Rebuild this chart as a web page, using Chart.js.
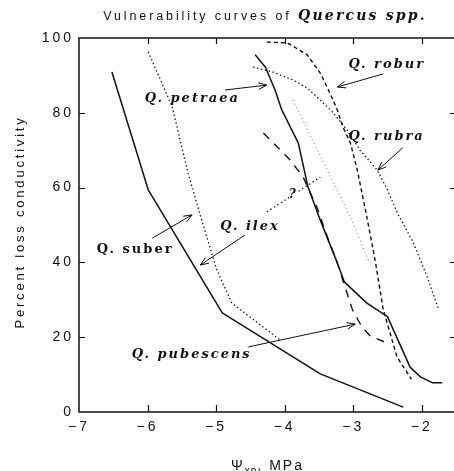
<!DOCTYPE html>
<html>
<head>
<meta charset="utf-8">
<title>Vulnerability curves of Quercus spp.</title>
<script src="https://cdn.jsdelivr.net/npm/chart.js@4.4.0/dist/chart.umd.min.js"></script>
<style>
    html, body { margin: 0; padding: 0; background: #fff; overflow: hidden; }
    #wrap { width: 458px; height: 471px; }
</style>
</head>
<body>
<div id="wrap"><canvas id="chart" width="458" height="471"></canvas></div>
<script>
// Axis ticks
const xTicks = [-7, -6, -5, -4, -3, -2];
const yTicks = [0, 20, 40, 60, 80, 100];

// Curves (xylem pressure MPa, percent loss conductivity)
const suberX = [-6.52, -5.99, -4.91, -3.48, -2.27];
const suberY = [90.9, 59.4, 26.5, 10.2, 1.3];

const ilexX = [-5.99, -5.64, -5.41, -5.18, -4.99, -4.77, -4.07];
const ilexY = [96.3, 81.6, 63.9, 49.5, 38.0, 29.1, 19.3];

const petraeaX = [-4.43, -4.28, -4.14, -4.04, -3.80, -3.66, -3.48, -3.23, -3.13, -2.80, -2.50, -2.17, -2.02, -1.84, -1.70];
const petraeaY = [95.5, 92.2, 86.1, 80.7, 71.9, 60.2, 51.3, 39.8, 34.8, 29.1, 25.5, 12.0, 9.4, 7.8, 7.8];

const roburX = [-4.26, -3.96, -3.67, -3.48, -3.34, -3.23, -3.15, -3.04, -2.94, -2.81, -2.68, -2.56, -2.36, -2.15];
const roburY = [98.9, 98.7, 95.5, 90.6, 85.3, 80.7, 76.2, 71.9, 64.7, 53.0, 40.6, 27.3, 14.7, 8.8];

const rubraX = [-4.46, -4.17, -3.88, -3.67, -3.48, -3.29, -3.09, -2.90, -2.65, -2.50, -2.35, -2.12, -1.92, -1.76];
const rubraY = [92.2, 90.9, 88.8, 86.6, 83.4, 80.0, 75.4, 70.0, 64.7, 59.4, 53.0, 45.2, 36.1, 27.8];

const pubescensX = [-4.31, -3.92, -3.73, -3.53, -3.36, -3.23, -3.09, -3.01, -2.87, -2.75, -2.50];
const pubescensY = [74.6, 67.4, 62.8, 54.8, 46.0, 39.8, 31.8, 27.3, 22.7, 20.3, 18.4];

// faint dotted curve without its own label
const otherX = [-3.88, -3.04, -2.78];
const otherY = [83.4, 52.1, 40.6];

function pts(xs, ys) {
    return xs.map((x, i) => ({ x: x, y: ys[i] }));
}

function curve(label, xs, ys, dash, width, color) {
    return {
        label: label,
        data: pts(xs, ys),
        showLine: true,
        pointRadius: 0,
        borderColor: color || '#111',
        borderWidth: width,
        borderDash: dash,
        borderCapStyle: 'butt',
        borderJoinStyle: 'round',
        fill: false
    };
}

// Species labels and arrows, in data units
const notes = [
    { text: 'Q. robur', x: -3.07, y: 92.0, italic: true },
    { text: 'Q. petraea', x: -6.04, y: 82.9, italic: true },
    { text: 'Q. rubra', x: -3.07, y: 72.7, italic: true },
    { text: 'Q. ilex', x: -4.94, y: 48.7, italic: true },
    { text: 'Q. suber', x: -6.74, y: 42.5, italic: false },
    { text: 'Q. pubescens', x: -6.23, y: 14.4, italic: true }
];
const arrows = [
    [-4.87, 86.1, -4.26, 87.4],
    [-2.56, 90.4, -3.23, 86.9],
    [-2.28, 70.6, -2.64, 64.7],
    [-5.93, 46.5, -5.35, 52.7],
    [-4.58, 47.3, -5.23, 39.3],
    [-4.53, 17.4, -2.97, 23.5]
];

function spaced(ctx, px) {
    if ('letterSpacing' in ctx) ctx.letterSpacing = px + 'px';
}

const decor = {
    id: 'decor',
    beforeDraw(chart) {
        spaced(chart.ctx, 3);
    },
    afterDraw(chart) {
        const ctx = chart.ctx;
        const a = chart.chartArea;
        const sx = chart.scales.x, sy = chart.scales.y;
        ctx.save();
        ctx.strokeStyle = '#111';
        ctx.fillStyle = '#111';

        // frame
        ctx.lineWidth = 1.5;
        ctx.strokeRect(a.left, a.top, a.right - a.left, a.bottom - a.top);

        // inward ticks
        ctx.lineWidth = 1.2;
        ctx.beginPath();
        xTicks.forEach(v => {
            if (v === sx.min) return;
            const p = Math.round(sx.getPixelForValue(v)) + 0.5;
            ctx.moveTo(p, a.bottom); ctx.lineTo(p, a.bottom - 7);
            ctx.moveTo(p, a.top); ctx.lineTo(p, a.top + 6);
        });
        yTicks.forEach(v => {
            if (v === sy.min || v === sy.max) return;
            const p = Math.round(sy.getPixelForValue(v)) + 0.5;
            ctx.moveTo(a.left, p); ctx.lineTo(a.left + 6, p);
            ctx.moveTo(a.right, p); ctx.lineTo(a.right - 6, p);
        });
        ctx.stroke();

        // arrows
        ctx.lineWidth = 1;
        arrows.forEach(r => {
            const x0 = sx.getPixelForValue(r[0]), y0 = sy.getPixelForValue(r[1]);
            const x1 = sx.getPixelForValue(r[2]), y1 = sy.getPixelForValue(r[3]);
            const ang = Math.atan2(y1 - y0, x1 - x0);
            ctx.beginPath();
            ctx.moveTo(x0, y0); ctx.lineTo(x1, y1);
            ctx.moveTo(x1 - 9 * Math.cos(ang - 0.38), y1 - 9 * Math.sin(ang - 0.38));
            ctx.lineTo(x1, y1);
            ctx.lineTo(x1 - 9 * Math.cos(ang + 0.38), y1 - 9 * Math.sin(ang + 0.38));
            ctx.stroke();
        });

        // "?" with dotted pointer
        ctx.lineWidth = 1.3;
        ctx.setLineDash([1.4, 2.8]);
        ctx.beginPath();
        ctx.moveTo(sx.getPixelForValue(-4.26), sy.getPixelForValue(53.5));
        ctx.lineTo(sx.getPixelForValue(-3.48), sy.getPixelForValue(62.8));
        ctx.stroke();
        ctx.setLineDash([]);
        ctx.fillStyle = '#fff';
        ctx.fillRect(sx.getPixelForValue(-3.95), sy.getPixelForValue(61.5), 10, 14);
        ctx.fillStyle = '#111';
        spaced(ctx, 0);
        ctx.font = 'bold italic 12px "DejaVu Serif"';
        ctx.textAlign = 'center';
        ctx.textBaseline = 'alphabetic';
        ctx.fillText('?', sx.getPixelForValue(-3.89), sy.getPixelForValue(57.2));

        // species labels
        ctx.textAlign = 'left';
        notes.forEach(n => {
            ctx.font = (n.italic ? 'bold italic ' : 'bold ') + '13px "DejaVu Serif"';
            spaced(ctx, n.italic ? 2 : 2);
            ctx.fillText(n.text, sx.getPixelForValue(n.x), sy.getPixelForValue(n.y));
        });

        // title
        const f1 = '12.5px "Liberation Sans"', f2 = 'bold italic 14px "DejaVu Serif"';
        ctx.font = f1;
        spaced(ctx, 2.9);
        const t1 = 'Vulnerability curves of ';
        const w1 = ctx.measureText(t1).width;
        ctx.font = f2;
        spaced(ctx, 2.2);
        const t2 = 'Quercus spp.';
        const w2 = ctx.measureText(t2).width;
        const tx = 265 - (w1 + w2) / 2;
        ctx.font = f1;
        spaced(ctx, 2.9);
        ctx.fillText(t1, tx, 20);
        ctx.font = f2;
        spaced(ctx, 2.2);
        ctx.fillText(t2, tx + w1, 20);

        // x axis title: Psi_xp, MPa
        const cx = (a.left + a.right) / 2;
        ctx.font = '14px "Liberation Sans"';
        spaced(ctx, 2);
        const p1 = '\u03A8', p3 = ', MPa';
        const wp1 = ctx.measureText(p1).width, wp3 = ctx.measureText(p3).width;
        ctx.font = '10px "Liberation Sans"';
        spaced(ctx, 1);
        const wp2 = ctx.measureText('xp').width;
        const px = cx - (wp1 + wp2 + wp3) / 2;
        ctx.font = '14px "Liberation Sans"';
        spaced(ctx, 2);
        ctx.fillText(p1, px, 470);
        ctx.font = '10px "Liberation Sans"';
        spaced(ctx, 1);
        ctx.fillText('xp', px + wp1, 474);
        ctx.font = '14px "Liberation Sans"';
        spaced(ctx, 2);
        ctx.fillText(p3, px + wp1 + wp2, 470);

        // y axis title
        ctx.translate(24, (a.top + a.bottom) / 2 - 3);
        ctx.rotate(-Math.PI / 2);
        ctx.font = '13px "Liberation Sans"';
        spaced(ctx, 2.8);
        ctx.textAlign = 'center';
        ctx.fillText('Percent loss conductivity', 0, 0);

        ctx.restore();
    }
};

const ctx = document.getElementById('chart').getContext('2d');
const chart = new Chart(ctx, {
    type: 'scatter',
    data: {
        datasets: [
            curve('Q. suber', suberX, suberY, [], 1.5),
            curve('Q. ilex', ilexX, ilexY, [1.4, 2.6], 1.3),
            curve('Q. petraea', petraeaX, petraeaY, [], 1.5),
            curve('Q. robur', roburX, roburY, [4, 3], 1.4),
            curve('Q. rubra', rubraX, rubraY, [1.4, 2.6], 1.3),
            curve('Q. pubescens', pubescensX, pubescensY, [8, 7], 1.4),
            curve('unlabelled', otherX, otherY, [1, 3], 1, '#777')
        ]
    },
    options: {
        responsive: false,
        animation: false,
        devicePixelRatio: 1,
        layout: { padding: { top: 38, right: 2, left: 0, bottom: 0 } },
        plugins: {
            legend: { display: false },
            tooltip: { enabled: false },
            title: { display: false }
        },
        scales: {
            x: {
                type: 'linear',
                min: -7,
                max: -1.5,
                grid: { display: false, drawTicks: false },
                border: { display: false },
                afterFit: s => { s.height = 59; },
                afterBuildTicks: s => { s.ticks = xTicks.map(v => ({ value: v })); },
                ticks: {
                    padding: 7,
                    color: '#111',
                    font: { family: 'Liberation Sans', size: 14 },
                    maxRotation: 0,
                    callback: v => '\u2212' + Math.abs(v)
                }
            },
            y: {
                type: 'linear',
                min: 0,
                max: 100,
                grid: { display: false, drawTicks: false },
                border: { display: false },
                afterFit: s => { s.width = 79; },
                afterBuildTicks: s => { s.ticks = yTicks.map(v => ({ value: v })); },
                ticks: {
                    padding: 5,
                    color: '#111',
                    font: { family: 'Liberation Sans', size: 14 }
                }
            }
        }
    },
    plugins: [decor]
});
</script>
</body>
</html>
